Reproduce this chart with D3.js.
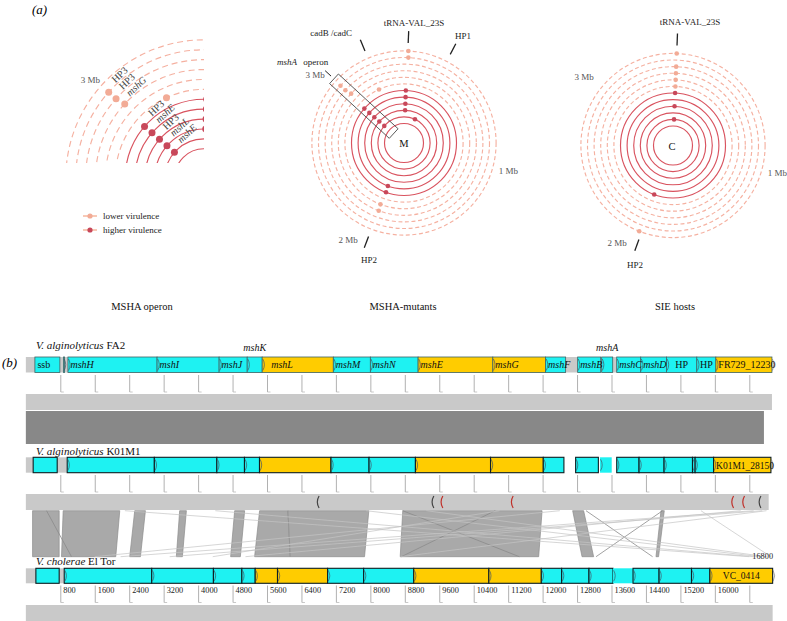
<!DOCTYPE html>
<html><head><meta charset="utf-8">
<script src="https://cdn.jsdelivr.net/npm/d3@7"></script>
<style>
body{margin:0;background:#fff}
svg text{font-family:"Liberation Serif","Times New Roman",serif}
</style></head>
<body><svg id="chart" width="787" height="621"></svg>
<script>
// ---------------- DATA : panel (a) ----------------
const genomeLengthMb = 3.45;
const ringIds = [1,2,3,4,5,6,7,8,9,10,11,12];          // strains, inner -> outer
const higherVirulenceRings = [1,2,3,4,5,6];
const mbTicks = [1,2,3];
// [ring, position in Mb]
const mutantDots = [[12,0.026],[11,0.028],[11,2.99],[10,2.99],[9,3.0],[7,3.21],
  [6,2.98],[5,2.98],[4,2.98],[3,2.98],[2,2.98],
  [6,0.019],[5,0.019],[4,0.019],[3,0.019],[2,0.238],
  [5,1.922],[6,1.917],[8,1.926],[9,1.921]];
const hostDots = [[12,0.022],[10,0.022],[9,0.022],[8,0.022],[7,0.022],[6,0.022],[4,0.022],[2,0.022],
  [6,1.926],[12,1.931]];
const mutantMarkers = [["tRNA-VAL_23S",0.023],["HP1",0.264],["cadB /cadC",3.23],["HP2",1.924]];
const hostMarkers = [["tRNA-VAL_23S",0.022],["HP2",1.916]];
const operonMb = 2.995;
const operonLabelRings = [11,10,9,6,5,4,3,2];
const operonLabelNames = ["HP3","HP3","mshG","HP3","mshE","HP3","mshL","mshE"];
const panelTitles = ["MSHA operon","MSHA-mutants","SIE hosts"];
const legendLabels = ["lower virulence","higher virulence"];

// ---------------- DATA : panel (b) ----------------
// [name, start bp, end bp, kind]  kind: 0 = cyan, 1 = gold, 2 = partial (cyan, no outline)
const fa2Genes = [["ssb",210,790,0],["",875,900,0],["mshH",977,3047,0],["mshI",3047,4488,0],["mshJ",4488,5140,0],
  ["mshK",5140,5488,0],["mshL",5488,7140,1],["mshM",7140,8000,0],["mshN",8000,9109,0],["mshE",9109,10844,1],
  ["mshG",10844,12070,1],["mshF",12070,12535,0],["mshB",12814,13349,0],["mshA",13372,13628,0],
  ["mshC",13721,14279,0],["mshD",14279,14877,0],["HP",14877,15581,0],["HP",15581,16023,0],["FR729_12230",16023,17326,1]];
const k01m1Genes = [["",170,728,0],["",960,2984,0],["",2984,4435,0],["",4435,5077,0],["",5077,5426,0],["",5426,7086,1],
  ["",7086,7970,0],["",7970,9047,0],["",9047,10791,1],["",10791,12016,1],["",12016,12495,0],["",12767,13295,0],
  ["",13333,13605,2],["",13721,14240,0],["",14240,14821,0],["",14821,15481,0],["",15481,15542,0],["",15542,15970,0],
  ["K01M1_28150",15970,17302,1]];
const elTorGenes = [["",233,774,0],["",891,2923,0],["",2923,4356,0],["",4356,5016,0],["",5016,5326,0],["",5326,5844,1],
  ["",5844,7007,1],["",7007,7844,0],["",7844,9007,0],["",9007,10751,1],["",10751,11970,1],["",11970,12442,0],
  ["",12442,13077,0],["",13077,13635,0],["",13635,14100,2],["",14100,14705,0],["",14705,15458,0],["",15458,15884,0],
  ["VC_0414",15884,17342,1]];
const trackLengths = [17326, 17250, 17342];
const trackNames = [["V. alginolyticus"," FA2"],["V. alginolyticus"," K01M1"],["V. cholerae"," El Tor"]];
const bpTicks = [800,1600,2400,3200,4000,4800,5600,6400,7200,8000,8800,9600,10400,11200,12000,12800,13600,14400,15200,16000,16800];
// K01M1 small features [bp, kind] kind: 'r' red, 'd' dark
const k01m1Marks = [[6786,'d'],[9451,'d'],[9660,'r'],[11293,'r'],[16411,'r'],[16666,'r'],[17046,'d']];
// FA2 vs K01M1 similarity block [topStart, topEnd, bottomStart, bottomEnd]
const fa2Blocks = [[0,17140,0,17140]];
// K01M1 vs El Tor similarity blocks
const elTorBlocks = [[156,774,156,774],[867,2181,828,2088],[2528,2777,2412,2661],[3572,3728,3495,3635],
  [4849,5081,4756,4981],[5428,6086,5312,6141],[6086,7965,6141,7865],[8753,11988,8693,11909],
  [12698,12953,12916,13185],[14749,14826,14633,14693]];
// thin matches [top bp, bottom bp, strong]
const elTorLines = [[480,1060,1],[8750,11460,1],[10900,8720,1],[13008,14554,1],[14787,13241,1],[15677,17300,0],
  [11000,4340,0],[17100,3340,0],[16900,2200,0],[17200,8700,0],[16600,5100,0],[2300,16800,0],[4400,16900,0],
  [7900,17050,0],[9300,17200,0],[12400,1600,0]];

// ---------------- STYLE ----------------
const COL = {solid:"#d9535f", dashed:"#f5b1a1", dark:"#c8485a", light:"#f2ab96",
  cyan:"#1ef2f2", gold:"#ffcc00", bar:"#c9c9c9", block:"#888888", poly:"#a9a9a9"};
const svg = d3.select("#chart");

// ---------------- PANEL (a) ----------------
const rScale = d3.scaleLinear().domain([1,12]).range([19.5,92.1]);
const aScale = d3.scaleLinear().domain([0,genomeLengthMb]).range([0,2*Math.PI]);
const isHigh = r => higherVirulenceRings.includes(r);
const polar = (cx,cy,r,mb) => [cx + r*Math.sin(aScale(mb)), cy - r*Math.cos(aScale(mb))];

function drawRings(g, cx, cy, k){
  g.selectAll("circle.ring").data(ringIds).join("circle").attr("class","ring")
    .attr("cx",cx).attr("cy",cy).attr("r",d=>rScale(d)*k)
    .attr("fill","none").attr("stroke",d=>isHigh(d)?COL.solid:COL.dashed)
    .attr("stroke-width",1.15)
    .attr("stroke-dasharray",d=>isHigh(d)?null:`${4*k},${2.6*k}`);
}
function drawDots(g, cx, cy, k, data, rad){
  g.selectAll("circle.dot").data(data).join("circle").attr("class","dot")
    .attr("cx",d=>polar(cx,cy,rScale(d[0])*k,d[1])[0])
    .attr("cy",d=>polar(cx,cy,rScale(d[0])*k,d[1])[1])
    .attr("r",rad).attr("fill",d=>isHigh(d[0])?COL.dark:COL.light);
}
function drawMbLabels(g, cx, cy, nudge){
  g.selectAll("text.mb").data(mbTicks).join("text").attr("class","mb")
    .attr("x",d=>polar(cx,cy,112,d)[0]+nudge[d][0]).attr("y",d=>polar(cx,cy,112,d)[1]+nudge[d][1])
    .attr("text-anchor","middle").attr("dy","0.35em").attr("font-size",9).attr("fill","#555")
    .text(d=>d+" Mb");
}
function drawMarkers(g, cx, cy, markers, textPos){
  markers.forEach((m,i)=>{
    const p1 = polar(cx,cy,100,m[1]), p2 = polar(cx,cy,112,m[1]);
    g.append("line").attr("x1",p1[0]).attr("y1",p1[1]).attr("x2",p2[0]).attr("y2",p2[1])
      .attr("stroke","#222").attr("stroke-width",1.3);
    g.append("text").attr("x",textPos[i][0]).attr("y",textPos[i][1]).attr("text-anchor",textPos[i][2])
      .attr("font-size",9).attr("fill","#222").text(m[0]);
  });
}

// (a) label
svg.append("text").attr("x",32).attr("y",14).attr("font-size",13).attr("font-style","italic").text("(a)");

// --- left magnified panel
const L = {cx:204, cy:178, k:1.5};
svg.append("clipPath").attr("id","clipL").append("rect").attr("x",0).attr("y",0).attr("width",204).attr("height",163);
const gL = svg.append("g").attr("clip-path","url(#clipL)");
drawRings(gL, L.cx, L.cy, L.k);
drawDots(gL, L.cx, L.cy, L.k, mutantDots, 3.5);
const gLt = svg.append("g");
operonLabelRings.forEach((ring,i)=>{
  const p = polar(L.cx,L.cy,rScale(ring)*L.k,operonMb);
  gLt.append("text").attr("transform",`translate(${p[0]+6},${p[1]-8}) rotate(-43)`)
    .attr("font-size",10).attr("fill","#444")
    .attr("font-style",operonLabelNames[i].startsWith("msh")?"italic":"normal")
    .text(operonLabelNames[i]);
});
{ const p = polar(L.cx,L.cy,150,3); gLt.append("text").attr("x",p[0]-4).attr("y",p[1]+4).attr("text-anchor","middle")
  .attr("dy","0.35em").attr("font-size",9).attr("fill","#555").text("3 Mb"); }
// legend
const legY = [216,230];
legendLabels.forEach((t,i)=>{
  const g = svg.append("g");
  g.append("line").attr("x1",83).attr("x2",97).attr("y1",legY[i]).attr("y2",legY[i]).attr("stroke","#f3a585").attr("stroke-width",1.2);
  g.append("circle").attr("cx",90).attr("cy",legY[i]).attr("r",2.6).attr("fill",i===0?COL.light:COL.dark);
  g.append("text").attr("x",103).attr("y",legY[i]+3).attr("font-size",9).attr("fill","#222").text(t);
});

// --- MSHA-mutants panel
const M = {cx:404, cy:143};
const gM = svg.append("g");
drawRings(gM, M.cx, M.cy, 1);
// operon box
gM.append("rect").attr("transform",`translate(${M.cx},${M.cy}) rotate(${aScale(operonMb)*180/Math.PI})`)
  .attr("x",-6.5).attr("y",-95).attr("width",13).attr("height",81)
  .attr("fill","none").attr("stroke","#555").attr("stroke-width",0.9);
drawDots(gM, M.cx, M.cy, 1, mutantDots, 2.3);
gM.append("text").attr("x",M.cx).attr("y",M.cy+4).attr("text-anchor","middle").attr("font-size",10.5).attr("fill","#111").text("M");
drawMbLabels(gM, M.cx, M.cy, {1:[-4,0],2:[-2,-1],3:[-7,8]});
drawMarkers(gM, M.cx, M.cy, mutantMarkers, [[414,26,"middle"],[463,39,"middle"],[352,36,"end"],[369,263,"middle"]]);
{ const p1 = polar(M.cx,M.cy,99,operonMb), p2 = polar(M.cx,M.cy,107,operonMb);
  gM.append("line").attr("x1",p1[0]).attr("y1",p1[1]).attr("x2",p2[0]).attr("y2",p2[1]).attr("stroke","#222").attr("stroke-width",1);
  const t = gM.append("text").attr("x",277).attr("y",65).attr("font-size",9).attr("fill","#222");
  t.append("tspan").attr("font-style","italic").text("mshA");
  t.append("tspan").attr("dx",4).text(" operon"); }

// --- SIE hosts panel
const C = {cx:673, cy:145.5};
const gC = svg.append("g");
drawRings(gC, C.cx, C.cy, 1);
drawDots(gC, C.cx, C.cy, 1, hostDots, 2.3);
gC.append("text").attr("x",C.cx-1).attr("y",C.cy+4).attr("text-anchor","middle").attr("font-size",10.5).attr("fill","#111").text("C");
drawMbLabels(gC, C.cx, C.cy, {1:[-4,0],2:[-2,-1],3:[-7,8]});
drawMarkers(gC, C.cx, C.cy, hostMarkers, [[690,25,"middle"],[635,268,"middle"]]);

// titles
[142,403,675].forEach((xx,i)=>svg.append("text").attr("x",xx).attr("y",310).attr("text-anchor","middle")
  .attr("font-size",10.5).attr("fill","#111").text(panelTitles[i]));

// ---------------- PANEL (b) ----------------
const x = d3.scaleLinear().domain([0,16800]).range([25.85,749.3]);
svg.append("text").attr("x",2).attr("y",367).attr("font-size",13).attr("font-style","italic").text("(b)");

const tracks = [
  {genes:fa2Genes, label:349, gy:357, gh:15.5, tick:375, bar:394, bg:[0,17326], stroke:"#3f6464", sw:0.8},
  {genes:k01m1Genes, label:455, gy:457.3, gh:15.4, tick:475, bar:494, bg:[0,953], stroke:"#0e1e22", sw:1.1},
  {genes:elTorGenes, label:565, gy:568.3, gh:15, tick:585.5, bar:605, bg:[0,960], stroke:"#0e1e22", sw:1.1}
];

function band(d, y0, y1){
  return `M${x(d[0])},${y0}L${x(d[1])},${y0}L${x(d[3])},${y1}L${x(d[2])},${y1}Z`;
}
svg.selectAll("path.blockA").data(fa2Blocks).join("path").attr("class","blockA")
  .attr("d",d=>band(d,411,444)).attr("fill",COL.block);
svg.selectAll("path.blockB").data(elTorBlocks).join("path").attr("class","blockB")
  .attr("d",d=>band(d,510.7,556.7)).attr("fill",COL.poly).attr("stroke","#8c8c8c").attr("stroke-width",0.7);
svg.selectAll("line.match").data(elTorLines).join("line").attr("class","match")
  .attr("x1",d=>x(d[0])).attr("y1",510.7).attr("x2",d=>x(d[1])).attr("y2",556.7)
  .attr("stroke",d=>d[2]?"#8a8a8a":"#c4c4c4").attr("stroke-width",d=>d[2]?0.8:0.7);

tracks.forEach((t,ti)=>{
  const g = svg.append("g");
  const nm = g.append("text").attr("x",36).attr("y",t.label).attr("font-size",11).attr("fill","#111");
  nm.append("tspan").attr("font-style","italic").text(trackNames[ti][0]);
  nm.append("tspan").text(trackNames[ti][1]);
  g.append("rect").attr("x",x(t.bg[0])).attr("y",t.gy).attr("width",x(t.bg[1])-x(t.bg[0])).attr("height",t.gh).attr("fill",COL.bar);
  g.selectAll("rect.gene").data(t.genes).join("rect").attr("class","gene")
    .attr("x",d=>x(d[1])).attr("y",t.gy).attr("width",d=>x(d[2])-x(d[1])).attr("height",t.gh)
    .attr("fill",d=>d[3]===1?COL.gold:COL.cyan)
    .attr("stroke",d=>d[3]===2?"none":t.stroke).attr("stroke-width",t.sw);
  g.selectAll("path.chev").data(t.genes.slice(1)).join("path").attr("class","chev")
    .attr("d",d=>{const xs=x(d[1])+0.6; return `M${xs},${t.gy+2}Q${xs+3.2},${t.gy+t.gh/2} ${xs},${t.gy+t.gh-2}`;})
    .attr("fill","none").attr("stroke","#456").attr("stroke-width",0.7);
  g.append("path").attr("d",()=>{const xe=x(t.genes[t.genes.length-1][2])+0.5; return `M${xe},${t.gy+2}Q${xe+3},${t.gy+t.gh/2} ${xe},${t.gy+t.gh-2}`;})
    .attr("fill","none").attr("stroke","#777").attr("stroke-width",0.7);
  g.selectAll("text.gl").data(t.genes.filter(d=>d[0]!=="")).join("text").attr("class","gl")
    .attr("x",d=>{const w=x(d[2])-x(d[1]); if(w<18) return (x(d[1])+x(d[2]))/2; if(d[0]==="HP"||d[0]==="VC_0414") return (x(d[1])+x(d[2]))/2; return x(d[1])+ (d[0]==="mshL"?9:2.5);})
    .attr("y",d=>(x(d[2])-x(d[1])<18)? t.gy-6 : t.gy+t.gh/2+3.5)
    .attr("text-anchor",d=>{const w=x(d[2])-x(d[1]); return (w<18||d[0]==="HP"||d[0]==="VC_0414")?"middle":"start";})
    .attr("font-size",d=>ti===0?10:9.5).attr("fill","#111")
    .attr("font-style",d=>d[0].startsWith("msh")?"italic":"normal").text(d=>d[0]);
  const ax = d3.axisBottom(x).tickValues(bpTicks).tickSize(17).tickSizeOuter(0)
    .tickFormat(ti===2?d3.format("d"):()=> "");
  const ag = g.append("g").attr("transform",`translate(0,${t.tick})`).call(ax);
  ag.select(".domain").remove();
  ag.selectAll(".tick line").attr("stroke","#a8a8a8").attr("stroke-width",0.9);
  ag.selectAll(".tick").append("line").attr("x1",0).attr("x2",3).attr("y1",17).attr("y2",17).attr("stroke","#bbb").attr("stroke-width",0.8);
  ag.selectAll(".tick text").attr("text-anchor","start").attr("x",2.5).attr("y",5).attr("dy","0.35em")
    .attr("font-size",8.3).attr("font-family","Liberation Serif, serif").attr("fill","#222");
  if(ti===2){ ag.selectAll(".tick text").filter(d=>d===16800).attr("y",-29); }
  g.append("rect").attr("x",x(0)).attr("y",t.bar).attr("width",x(trackLengths[ti])-x(0)).attr("height",16).attr("fill",COL.bar);
});
svg.selectAll("path.mk").data(k01m1Marks).join("path").attr("class","mk")
  .attr("d",d=>{const xx=x(d[0]); return `M${xx+1},496Q${xx-2.5},502 ${xx+1},508`;})
  .attr("fill","none").attr("stroke",d=>d[1]==='r'?"#c0302a":"#444").attr("stroke-width",1.2);
</script></body></html>
